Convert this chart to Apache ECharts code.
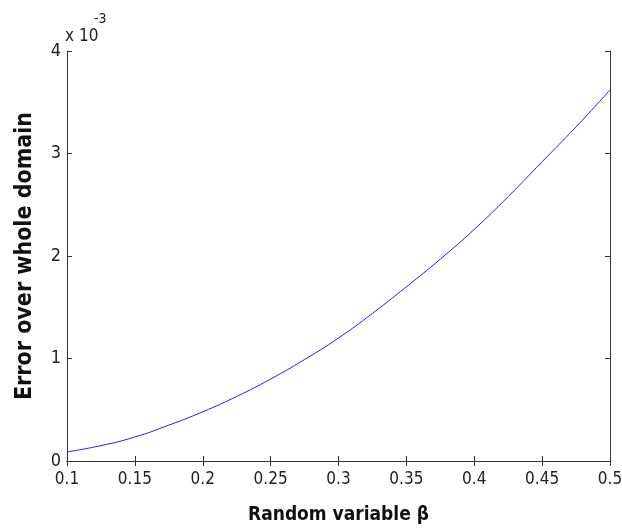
<!DOCTYPE html>
<html>
<head>
<meta charset="utf-8">
<script src="https://cdn.jsdelivr.net/npm/echarts@6/dist/echarts.min.js"></script>
<style>html,body{margin:0;padding:0;background:#fff}#c{width:622px;height:530px}</style>
</head>
<body>
<div id="c"></div>
<script>
// beta values
var betaValues = [0.1, 0.125, 0.15, 0.175, 0.2, 0.225, 0.25, 0.275, 0.3, 0.325, 0.35, 0.375, 0.4, 0.425, 0.45, 0.475, 0.5];
// error in units of 1e-3
var errorValues = [0.088, 0.15, 0.234, 0.35, 0.48, 0.63, 0.80, 0.99, 1.20, 1.44, 1.70, 1.97, 2.26, 2.58, 2.92, 3.26, 3.62];
var xTicks = [0.1, 0.15, 0.2, 0.25, 0.3, 0.35, 0.4, 0.45, 0.5];
var yTicks = [0, 1, 2, 3, 4];

var FONT = '"DejaVu Sans Condensed", "Liberation Sans Narrow", "Liberation Sans", sans-serif';
var seriesData = betaValues.map(function (b, i) { return [b, errorValues[i]]; });

var axisLine = { show: true, lineStyle: { color: '#333', width: 1 } };
var tick = { show: true, inside: true, length: 5, lineStyle: { color: '#333', width: 1 } };

var chart = echarts.init(document.getElementById('c'));
chart.setOption({
  animation: false,
  backgroundColor: '#fff',
  grid: { left: 67, right: 12, top: 51, bottom: 69, containLabel: false, outerBoundsMode: 'none' },
  xAxis: [{
    type: 'value', min: 0.1, max: 0.5, interval: 0.05,
    axisLine: axisLine, axisTick: tick, splitLine: { show: false },
    axisLabel: { fontFamily: FONT, fontSize: 17, color: '#222', margin: 10,
      formatter: function (v) { return String(+v.toFixed(2)); } },
    name: 'Random variable β', nameLocation: 'middle', nameGap: 45,
    nameTextStyle: { fontFamily: FONT, fontSize: 19, fontWeight: 'bold', color: '#111' }
  }, {
    type: 'value', position: 'top', min: 0.1, max: 0.5, interval: 0.05,
    axisLine: axisLine, axisTick: tick, splitLine: { show: false },
    axisLabel: { show: false }
  }],
  yAxis: [{
    type: 'value', min: 0, max: 4, interval: 1,
    axisLine: axisLine, axisTick: tick, splitLine: { show: false },
    axisLabel: { fontFamily: FONT, fontSize: 18, color: '#222', margin: 6 },
    name: 'Error over whole domain', nameLocation: 'middle', nameGap: 30,
    nameTextStyle: { fontFamily: FONT, fontSize: 23, fontWeight: 'bold', color: '#111' }
  }, {
    type: 'value', position: 'right', min: 0, max: 4, interval: 1,
    axisLine: axisLine, axisTick: tick, splitLine: { show: false },
    axisLabel: { show: false }
  }],
  graphic: [
    { type: 'text', left: 65, top: 28, style: { text: 'x 10', font: '17px ' + FONT, fill: '#222' } },
    { type: 'text', left: 94, top: 12, style: { text: '-3', font: '14px ' + FONT, fill: '#222' } }
  ],
  series: [{
    type: 'line', data: seriesData, showSymbol: false, smooth: true,
    lineStyle: { color: '#2020ff', width: 1 }
  }]
});
</script>
</body>
</html>
